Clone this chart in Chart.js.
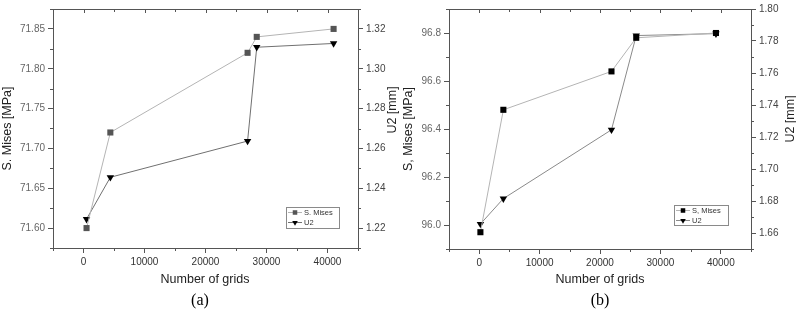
<!DOCTYPE html>
<html>
<head>
<meta charset="utf-8">
<script src="https://cdn.jsdelivr.net/npm/chart.js@4.4.0/dist/chart.umd.min.js"></script>
<style>
  html, body { margin: 0; padding: 0; background: #fff; }
  #wrap { position: relative; width: 796px; height: 311px; overflow: hidden; }
  .panel { position: absolute; top: 0; width: 400px; height: 311px; }
</style>
</head>
<body>
<div id="wrap">
  <div class="panel" style="left:0"><canvas id="chartA" width="400" height="311"></canvas></div>
  <div class="panel" style="left:396px"><canvas id="chartB" width="400" height="311"></canvas></div>
</div>
<script>
// panel (a)
const gridsA = [500, 4400, 26900, 28400, 41000];
const misesA = [71.60, 71.72, 71.82, 71.84, 71.85];
const u2A = [1.2245, 1.2455, 1.2637, 1.3108, 1.3127];

// panel (b)
const gridsB = [200, 4000, 21900, 26000, 39200];
const misesB = [95.97, 96.48, 96.64, 96.78, 96.80];
const u2B = [1.6656, 1.6815, 1.7245, 1.7834, 1.7846];

// tick labels
const gridTicks = [0, 10000, 20000, 30000, 40000];
const misesTicksA = [71.60, 71.65, 71.70, 71.75, 71.80, 71.85];
const u2TicksA = [1.22, 1.24, 1.26, 1.28, 1.30, 1.32];
const misesTicksB = [96.0, 96.2, 96.4, 96.6, 96.8];
const u2TicksB = [1.66, 1.68, 1.70, 1.72, 1.74, 1.76, 1.78, 1.80];

const AXIS = '#555';

// every half step between major ticks, inside the scale range
function halfSteps(scale) {
  const t = scale.ticks.map(k => k.value);
  const step = (t[1] - t[0]) / 2;
  const out = [];
  const k0 = Math.ceil((scale.min - t[0]) / step - 1e-6);
  const k1 = Math.floor((scale.max - t[0]) / step + 1e-6);
  for (let k = k0; k <= k1; k++) out.push({ v: t[0] + k * step, minor: Math.abs(k % 2) === 1 });
  return out;
}

function drawMarker(ctx, style, x, y, r, color) {
  ctx.fillStyle = color;
  if (style === 'rect') {
    const s = r * Math.SQRT1_2;
    ctx.fillRect(x - s, y - s, 2 * s, 2 * s);
  } else {
    ctx.beginPath();
    ctx.moveTo(x - r * 0.87, y - r * 0.5);
    ctx.lineTo(x + r * 0.87, y - r * 0.5);
    ctx.lineTo(x, y + r);
    ctx.closePath();
    ctx.fill();
  }
}

const framePlugin = {
  id: 'frame',
  afterDraw(chart, args, o) {
    const ctx = chart.ctx, a = chart.chartArea;
    const sx = chart.scales.x, yl = chart.scales.y, yr = chart.scales.y1;
    ctx.save();
    ctx.strokeStyle = AXIS;
    ctx.lineWidth = 1;

    // top border and its inward ticks
    ctx.beginPath();
    ctx.moveTo(a.left, a.top + 0.5); ctx.lineTo(a.right, a.top + 0.5);
    halfSteps(sx).forEach(p => {
      const px = Math.round(sx.getPixelForValue(p.v)) + 0.5;
      ctx.moveTo(px, a.top); ctx.lineTo(px, a.top + (p.minor ? 3 : 4));
    });
    // minor ticks, outward
    halfSteps(sx).filter(p => p.minor).forEach(p => {
      const px = Math.round(sx.getPixelForValue(p.v)) + 0.5;
      ctx.moveTo(px, a.bottom); ctx.lineTo(px, a.bottom + 3);
    });
    halfSteps(yl).filter(p => p.minor).forEach(p => {
      const py = Math.round(yl.getPixelForValue(p.v)) + 0.5;
      ctx.moveTo(a.left, py); ctx.lineTo(a.left - 3, py);
    });
    halfSteps(yr).filter(p => p.minor).forEach(p => {
      const py = Math.round(yr.getPixelForValue(p.v)) + 0.5;
      ctx.moveTo(a.right, py); ctx.lineTo(a.right + 3, py);
    });
    ctx.stroke();

    // axis titles
    ctx.fillStyle = '#222';
    ctx.font = '12.5px "Liberation Sans", Arial, sans-serif';
    ctx.textAlign = 'center';
    ctx.textBaseline = 'middle';
    ctx.fillText(o.xTitle, o.xTitleX, o.xTitleY);
    ctx.save();
    ctx.translate(o.leftTitleX, (a.top + a.bottom) / 2);
    ctx.rotate(-Math.PI / 2);
    ctx.fillText(o.leftTitle, 0, 0);
    ctx.restore();
    ctx.save();
    ctx.translate(o.rightTitleX, o.rightTitleY);
    ctx.rotate(-Math.PI / 2);
    ctx.fillText(o.rightTitle, 0, 0);
    ctx.restore();

    // caption
    ctx.fillStyle = '#000';
    ctx.font = '16px "Liberation Serif", "Times New Roman", serif';
    ctx.fillText(o.caption, o.captionX, o.captionY);

    // legend
    const lg = o.legend;
    ctx.fillStyle = '#fff';
    ctx.fillRect(lg.x, lg.y, lg.w, lg.h);
    ctx.strokeStyle = '#8a8a8a';
    ctx.strokeRect(lg.x + 0.5, lg.y + 0.5, lg.w, lg.h);
    ctx.font = '7.5px "Liberation Sans", Arial, sans-serif';
    ctx.textAlign = 'left';
    chart.data.datasets.forEach((ds, i) => {
      const ry = lg.y + 5 + i * 10;
      ctx.strokeStyle = ds.borderColor;
      ctx.beginPath();
      ctx.moveTo(lg.x + 2, ry + 0.5); ctx.lineTo(lg.x + 16, ry + 0.5);
      ctx.stroke();
      drawMarker(ctx, ds.pointStyle === 'rect' ? 'rect' : 'tri', lg.x + 9, ry + 0.5, 3.2, ds.pointBackgroundColor);
      ctx.fillStyle = '#333';
      ctx.fillText(ds.label, lg.x + 18, ry + 1);
    });
    ctx.restore();
  }
};

function fixedTicks(values) {
  return scale => { scale.ticks = values.map(v => ({ value: v })); };
}

function makeChart(id, p) {
  return new Chart(document.getElementById(id), {
    type: 'scatter',
    data: {
      datasets: [
        {
          label: p.misesLabel,
          data: p.grids.map((g, i) => ({ x: g, y: p.mises[i] })),
          yAxisID: 'y',
          showLine: true,
          borderColor: '#b4b4b4',
          borderWidth: 1,
          pointStyle: 'rect',
          pointRadius: 4.3,
          pointBackgroundColor: p.squareColor,
          pointBorderWidth: 0
        },
        {
          label: 'U2',
          data: p.grids.map((g, i) => ({ x: g, y: p.u2[i] })),
          yAxisID: 'y1',
          showLine: true,
          borderColor: p.u2Line,
          borderWidth: 1,
          pointStyle: 'triangle',
          rotation: 180,
          pointRadius: 4.3,
          pointBackgroundColor: '#000',
          pointBorderWidth: 0
        }
      ]
    },
    options: {
      responsive: false,
      animation: false,
      layout: { padding: { top: p.top, left: 0, right: 0, bottom: 0 } },
      plugins: {
        legend: { display: false },
        tooltip: { enabled: false },
        frame: p.frame
      },
      scales: {
        x: {
          type: 'linear',
          min: -5000, max: 45000,
          afterBuildTicks: fixedTicks(gridTicks),
          afterFit: s => { s.height = 311 - p.bottom; },
          border: { color: AXIS },
          grid: { drawOnChartArea: false, tickLength: 5, tickColor: AXIS },
          ticks: { color: '#333', padding: 3, maxRotation: 0, font: { size: 10, family: '"Liberation Sans", Arial' },
                   callback: v => String(v) }
        },
        y: {
          position: 'left',
          min: p.yMin, max: p.yMax,
          afterBuildTicks: fixedTicks(p.misesTicks),
          afterFit: s => { s.width = p.left; },
          border: { color: AXIS },
          grid: { drawOnChartArea: false, tickLength: 5, tickColor: AXIS },
          ticks: { color: '#666', padding: 3, font: { size: 10, family: '"Liberation Sans", Arial' },
                   callback: v => v.toFixed(p.yDec) }
        },
        y1: {
          position: 'right',
          min: p.y1Min, max: p.y1Max,
          afterBuildTicks: fixedTicks(p.u2Ticks),
          afterFit: s => { s.width = 400 - p.right; },
          border: { color: AXIS },
          grid: { drawOnChartArea: false, tickLength: 5, tickColor: AXIS },
          ticks: { color: '#444', padding: 3, font: { size: 10, family: '"Liberation Sans", Arial' },
                   callback: v => v.toFixed(2) }
        }
      }
    },
    plugins: [framePlugin]
  });
}

makeChart('chartA', {
  grids: gridsA, mises: misesA, u2: u2A,
  misesLabel: 'S. Mises', squareColor: '#555', u2Line: '#707070',
  misesTicks: misesTicksA, u2Ticks: u2TicksA, yDec: 2,
  yMin: 71.575, yMax: 71.875, y1Min: 1.21, y1Max: 1.33,
  top: 4, bottom: 248, left: 53, right: 358,
  frame: {
    xTitle: 'Number of grids', xTitleX: 205, xTitleY: 280,
    leftTitle: 'S. Mises [MPa]', leftTitleX: 8,
    rightTitle: 'U2 [mm]', rightTitleX: 393, rightTitleY: 110,
    caption: '(a)', captionX: 200, captionY: 301,
    legend: { x: 286, y: 207, w: 53, h: 21 }
  }
});

makeChart('chartB', {
  grids: gridsB, mises: misesB, u2: u2B,
  misesLabel: 'S, Mises', squareColor: '#000', u2Line: '#8a8a8a',
  misesTicks: misesTicksB, u2Ticks: u2TicksB, yDec: 1,
  yMin: 95.9, yMax: 96.9, y1Min: 1.65, y1Max: 1.80,
  top: 5, bottom: 249, left: 53, right: 355,
  frame: {
    xTitle: 'Number of grids', xTitleX: 204, xTitleY: 280,
    leftTitle: 'S, Mises [MPa]', leftTitleX: 13,
    rightTitle: 'U2 [mm]', rightTitleX: 395, rightTitleY: 119,
    caption: '(b)', captionX: 204, captionY: 301,
    legend: { x: 278, y: 205, w: 54, h: 20 }
  }
});
</script>
</body>
</html>
